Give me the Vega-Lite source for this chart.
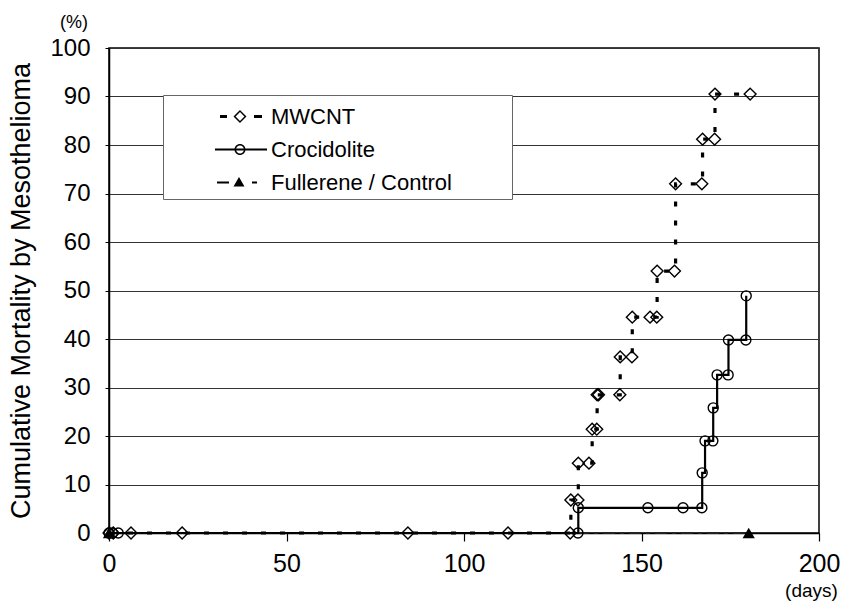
{
  "$schema": "https://vega.github.io/schema/vega-lite/v6.json",
  "autosize": {"type": "none"},
  "padding": {"left": 109, "top": 48, "right": 25, "bottom": 78},
  "width": 710,
  "height": 485,
  "background": "white",
  "title": {"text": "(%)", "anchor": "start", "frame": "group", "dx": -49, "offset": 4, "fontSize": 18, "fontWeight": "normal", "font": "Liberation Sans", "color": "black"},
  "config": {
    "font": "Liberation Sans",
    "view": {"stroke": "black", "strokeWidth": 1.5},
    "axis": {"labelColor": "black", "titleColor": "black", "domainColor": "black", "tickColor": "black", "labelFont": "Liberation Sans", "titleFont": "Liberation Sans", "titleFontWeight": "normal"}
  },
  "data": {
    "values": [
      {"series": "MWCNT", "day": 0, "pct": 0},
      {"series": "MWCNT", "day": 1.2, "pct": 0},
      {"series": "MWCNT", "day": 6.2, "pct": 0},
      {"series": "MWCNT", "day": 20.6, "pct": 0},
      {"series": "MWCNT", "day": 84.2, "pct": 0},
      {"series": "MWCNT", "day": 112.4, "pct": 0},
      {"series": "MWCNT", "day": 129.9, "pct": 0},
      {"series": "MWCNT", "day": 130.1, "pct": 6.8},
      {"series": "MWCNT", "day": 132.1, "pct": 6.8},
      {"series": "MWCNT", "day": 132.2, "pct": 14.4},
      {"series": "MWCNT", "day": 135.2, "pct": 14.4},
      {"series": "MWCNT", "day": 136.1, "pct": 21.4},
      {"series": "MWCNT", "day": 137.4, "pct": 21.4},
      {"series": "MWCNT", "day": 137.5, "pct": 28.5},
      {"series": "MWCNT", "day": 137.9, "pct": 28.5},
      {"series": "MWCNT", "day": 143.9, "pct": 28.5},
      {"series": "MWCNT", "day": 144.0, "pct": 36.3},
      {"series": "MWCNT", "day": 147.3, "pct": 36.3},
      {"series": "MWCNT", "day": 147.4, "pct": 44.5},
      {"series": "MWCNT", "day": 152.4, "pct": 44.5},
      {"series": "MWCNT", "day": 154.3, "pct": 44.5},
      {"series": "MWCNT", "day": 154.4, "pct": 54},
      {"series": "MWCNT", "day": 159.3, "pct": 54},
      {"series": "MWCNT", "day": 159.6, "pct": 72},
      {"series": "MWCNT", "day": 167.0, "pct": 72},
      {"series": "MWCNT", "day": 167.2, "pct": 81.2},
      {"series": "MWCNT", "day": 170.6, "pct": 81.2},
      {"series": "MWCNT", "day": 170.7, "pct": 90.5},
      {"series": "MWCNT", "day": 180.6, "pct": 90.5},
      {"series": "Crocidolite", "day": 0, "pct": 0},
      {"series": "Crocidolite", "day": 1, "pct": 0},
      {"series": "Crocidolite", "day": 2.6, "pct": 0},
      {"series": "Crocidolite", "day": 132.1, "pct": 0},
      {"series": "Crocidolite", "day": 132.2, "pct": 5.2},
      {"series": "Crocidolite", "day": 151.8, "pct": 5.2},
      {"series": "Crocidolite", "day": 161.7, "pct": 5.2},
      {"series": "Crocidolite", "day": 167.0, "pct": 5.2},
      {"series": "Crocidolite", "day": 167.1, "pct": 12.4},
      {"series": "Crocidolite", "day": 167.9, "pct": 19},
      {"series": "Crocidolite", "day": 170.1, "pct": 19},
      {"series": "Crocidolite", "day": 170.2, "pct": 25.8},
      {"series": "Crocidolite", "day": 171.3, "pct": 32.6},
      {"series": "Crocidolite", "day": 174.4, "pct": 32.6},
      {"series": "Crocidolite", "day": 174.5, "pct": 39.8},
      {"series": "Crocidolite", "day": 179.4, "pct": 39.8},
      {"series": "Crocidolite", "day": 179.5, "pct": 48.9},
      {"series": "Fullerene / Control", "day": 0, "pct": 0},
      {"series": "Fullerene / Control", "day": 180.2, "pct": 0}
    ]
  },
  "encoding": {
    "x": {
      "field": "day", "type": "quantitative",
      "scale": {"domain": [0, 200], "nice": false, "zero": false},
      "axis": {"title": "(days)", "values": [0, 50, 100, 150, 200], "grid": false, "tickSize": 8, "tickWidth": 1.2, "labelFontSize": 25, "labelPadding": 10, "domainWidth": 1.5, "titleFontSize": 19, "titleX": 702, "titleAlign": "center", "titlePadding": 5, "labelFlush": false}
    },
    "y": {
      "field": "pct", "type": "quantitative",
      "scale": {"domain": [0, 100], "nice": false},
      "axis": {"title": "Cumulative Mortality by Mesothelioma", "values": [0, 10, 20, 30, 40, 50, 60, 70, 80, 90, 100], "grid": true, "gridColor": "#333333", "gridWidth": 1, "gridOpacity": 1, "tickSize": 4, "labelFontSize": 24, "labelPadding": 15, "titleFontSize": 27, "titlePadding": 14, "domainWidth": 1.5}
    }
  },
  "layer": [
    {
      "transform": [{"filter": "datum.series === 'Fullerene / Control'"}],
      "mark": {"type": "line", "color": "#222222", "strokeWidth": 1.8, "strokeDash": [12, 5, 4, 5]},
      "encoding": {}
    },
    {
      "transform": [{"filter": "datum.series === 'MWCNT'"}],
      "mark": {"type": "line", "interpolate": "step-after", "color": "black", "strokeWidth": 3.2, "strokeDash": [5, 14]},
      "encoding": {}
    },
    {
      "transform": [{"filter": "datum.series === 'Crocidolite'"}],
      "mark": {"type": "line", "interpolate": "step-after", "color": "black", "strokeWidth": 2.2},
      "encoding": {}
    },
    {
      "transform": [{"filter": "datum.series === 'MWCNT'"}],
      "mark": {"type": "point", "shape": "diamond", "filled": false, "color": "black", "strokeWidth": 1.4, "size": 140, "opacity": 1},
      "encoding": {}
    },
    {
      "transform": [{"filter": "datum.series === 'Crocidolite'"}],
      "mark": {"type": "point", "shape": "circle", "filled": false, "color": "black", "strokeWidth": 1.4, "size": 100, "opacity": 1},
      "encoding": {}
    },
    {
      "transform": [{"filter": "datum.series === 'Fullerene / Control'"}],
      "mark": {"type": "point", "shape": "triangle-up", "filled": true, "color": "black", "size": 150, "opacity": 1},
      "encoding": {}
    },
    {
      "mark": {"type": "point", "filled": true, "color": "black", "opacity": 0, "size": 1089},
      "encoding": {
        "shape": {
          "field": "series", "type": "nominal",
          "scale": {
            "domain": ["MWCNT", "Crocidolite", "Fullerene / Control"],
            "range": [
              "M2.1515,-0.0909H2.5758V0.0909H2.1515ZM4.2121,-0.0909H4.6970V0.0909H4.2121ZM2.9697,0L3.3636,-0.3939L3.7575,0L3.3636,0.3939ZM3.0969,0L3.3636,0.2667L3.6303,0L3.3636,-0.2667Z",
              "M1.8485,-0.0667H5.0V0.0667H1.8485ZM3.6969,0C3.6969,0.1841 3.5477,0.3333 3.3636,0.3333C3.1795,0.3333 3.0303,0.1841 3.0303,0C3.0303,-0.1841 3.1795,-0.3333 3.3636,-0.3333C3.5477,-0.3333 3.6969,-0.1841 3.6969,0ZM3.6060,0C3.6060,-0.1339 3.4975,-0.2424 3.3636,-0.2424C3.2297,-0.2424 3.1212,-0.1339 3.1212,0C3.1212,0.1339 3.2297,0.2424 3.3636,0.2424C3.4975,0.2424 3.6060,0.1339 3.6060,0Z",
              "M1.9697,-0.0606H2.6970V0.0606H1.9697ZM3.3030,-0.3333L3.6363,0.2424L2.9697,0.2424ZM4.0909,-0.0606H4.3939V0.0606H4.0909Z"
            ]
          },
          "legend": {
            "title": null, "orient": "none", "legendX": 54, "legendY": 47, "padding": 5,
            "fillColor": "white", "strokeColor": "#666666",
            "symbolSize": 1089, "symbolStrokeWidth": 0, "symbolOpacity": 1, "symbolFillColor": "black", "rowPadding": 5,
            "labelFontSize": 22, "labelFont": "Liberation Sans", "labelColor": "black", "labelOffset": 70, "labelLimit": 500,
            "labelExpr": "datum.label + '\u00a0\u00a0\u00a0\u00a0\u00a0\u00a0\u00a0\u00a0\u00a0\u200b'"
          }
        }
      }
    }
  ]
}
